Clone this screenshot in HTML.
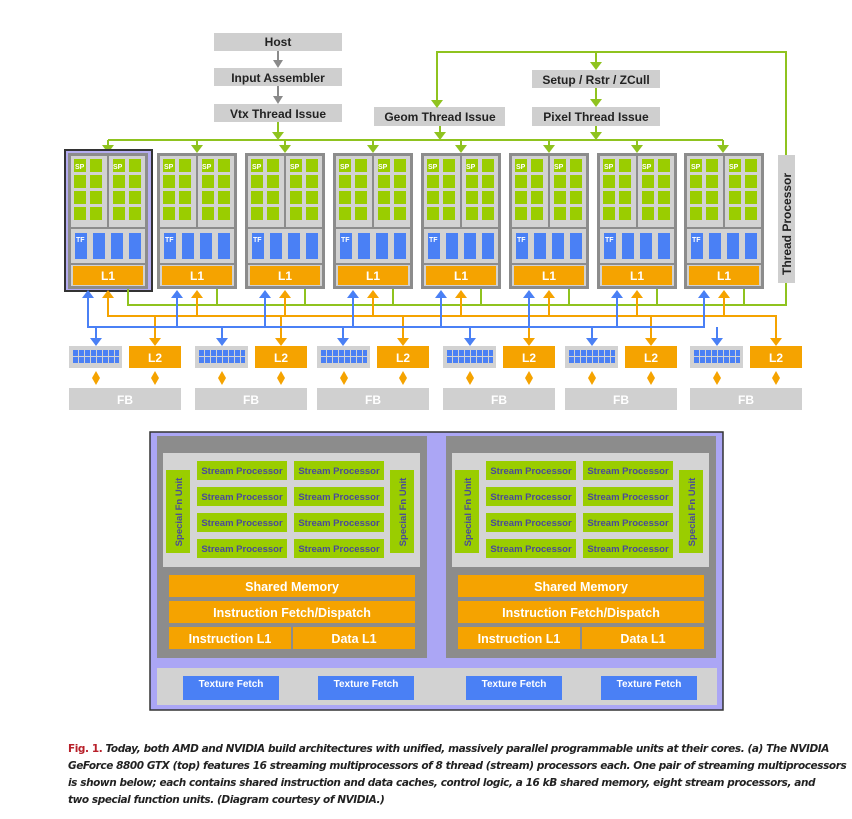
<!DOCTYPE html>
<html><head><meta charset="utf-8"><style>
body{margin:0;background:#fff;}
svg{display:block;font-family:"Liberation Sans",sans-serif;font-weight:bold;}
.cap{position:absolute;left:68px;top:741px;width:790px;white-space:nowrap;font:italic bold 10.5px/17px "DejaVu Sans","Liberation Sans",sans-serif;color:#222;letter-spacing:-0.42px}
.cap b{color:#b8202a;font-style:normal}
</style></head><body>
<svg width="852" height="819" viewBox="0 0 852 819" xmlns="http://www.w3.org/2000/svg">
<defs>
<g id="cl">
<rect x="0" y="153" width="80" height="136" fill="#8c8c8c"/>
<rect x="3" y="156" width="36" height="71" fill="#d2d2d2"/>
<rect x="41" y="156" width="36" height="71" fill="#d2d2d2"/>
<g fill="#9acd00">
<rect x="6" y="159" width="12" height="13"/><rect x="22" y="159" width="12" height="13"/>
<rect x="6" y="175" width="12" height="13"/><rect x="22" y="175" width="12" height="13"/>
<rect x="6" y="191" width="12" height="13"/><rect x="22" y="191" width="12" height="13"/>
<rect x="6" y="207" width="12" height="13"/><rect x="22" y="207" width="12" height="13"/>
<rect x="45" y="159" width="12" height="13"/><rect x="61" y="159" width="12" height="13"/>
<rect x="45" y="175" width="12" height="13"/><rect x="61" y="175" width="12" height="13"/>
<rect x="45" y="191" width="12" height="13"/><rect x="61" y="191" width="12" height="13"/>
<rect x="45" y="207" width="12" height="13"/><rect x="61" y="207" width="12" height="13"/>
</g>
<rect x="3" y="229" width="74" height="34" fill="#d2d2d2"/>
<g fill="#4a80f5">
<rect x="7" y="233" width="12" height="26"/><rect x="25" y="233" width="12" height="26"/>
<rect x="43" y="233" width="12" height="26"/><rect x="61" y="233" width="12" height="26"/>
</g>
<rect x="3" y="265" width="74" height="21" fill="#d2d2d2"/>
<rect x="5" y="266" width="70" height="19" fill="#f5a300"/>
</g>
<g id="mp">
<rect x="0" y="346" width="53" height="22" fill="#d2d2d2"/>
<g fill="#4a80f5">
<rect x="4" y="350" width="5" height="6"/><rect x="10" y="350" width="5" height="6"/><rect x="16" y="350" width="5" height="6"/><rect x="22" y="350" width="5" height="6"/><rect x="28" y="350" width="5" height="6"/><rect x="34" y="350" width="5" height="6"/><rect x="40" y="350" width="5" height="6"/><rect x="46" y="350" width="4" height="6"/>
<rect x="4" y="357" width="5" height="6"/><rect x="10" y="357" width="5" height="6"/><rect x="16" y="357" width="5" height="6"/><rect x="22" y="357" width="5" height="6"/><rect x="28" y="357" width="5" height="6"/><rect x="34" y="357" width="5" height="6"/><rect x="40" y="357" width="5" height="6"/><rect x="46" y="357" width="4" height="6"/>
</g>
<rect x="60" y="346" width="52" height="22" fill="#f5a300"/>
<rect x="0" y="388" width="112" height="22" fill="#d0d0d0"/>
<g fill="#f5a300">
<path d="M27,371 L31,378 L27,385 L23,378Z"/><path d="M86,371 L90,378 L86,385 L82,378Z"/>
</g>
</g>
<g id="sm">
<rect x="0" y="436" width="270" height="222" fill="#8c8c8c"/>
<rect x="6" y="453" width="257" height="114" fill="#d4d4d4"/>
<rect x="9" y="470" width="24" height="83" fill="#9acd00"/>
<rect x="233" y="470" width="24" height="83" fill="#9acd00"/>
<g fill="#9acd00">
<rect x="40" y="461" width="90" height="19"/><rect x="137" y="461" width="90" height="19"/>
<rect x="40" y="487" width="90" height="19"/><rect x="137" y="487" width="90" height="19"/>
<rect x="40" y="513" width="90" height="19"/><rect x="137" y="513" width="90" height="19"/>
<rect x="40" y="539" width="90" height="19"/><rect x="137" y="539" width="90" height="19"/>
</g>
<g fill="#f5a300">
<rect x="12" y="575" width="246" height="22"/><rect x="12" y="601" width="246" height="22"/>
<rect x="12" y="627" width="122" height="22"/><rect x="136" y="627" width="122" height="22"/>
</g>
</g>
</defs>

<g fill="#cfcfcf">
<rect x="214" y="33" width="128" height="18"/>
<rect x="214" y="68" width="128" height="18"/>
<rect x="214" y="104" width="128" height="18"/>
<rect x="374" y="107" width="131" height="19"/>
<rect x="532" y="70" width="128" height="18"/>
<rect x="532" y="107" width="128" height="19"/>
</g>
<g font-size="12" text-anchor="middle" fill="#222">
<text x="278" y="46">Host</text>
<text x="278" y="82">Input Assembler</text>
<text x="278" y="118">Vtx Thread Issue</text>
<text x="440" y="121">Geom Thread Issue</text>
<text x="596" y="84">Setup / Rstr / ZCull</text>
<text x="596" y="121">Pixel Thread Issue</text>
</g>
<g stroke="#8a8a8a" stroke-width="2"><line x1="278" y1="51" x2="278" y2="62"/><line x1="278" y1="86" x2="278" y2="98"/></g>
<g fill="#8a8a8a"><path d="M273,60 L283,60 L278,68Z"/><path d="M273,96 L283,96 L278,104Z"/></g>

<g stroke="#8fc31f" stroke-width="2" fill="none">
<polyline points="437,101 437,52 786,52 786,155"/>
<line x1="596" y1="52" x2="596" y2="64"/>
<line x1="596" y1="88" x2="596" y2="101"/>
<line x1="278" y1="122" x2="278" y2="134"/>
<line x1="440" y1="126" x2="440" y2="134"/>
<line x1="596" y1="126" x2="596" y2="134"/>
<line x1="108" y1="140" x2="723" y2="140"/>
<line x1="108" y1="140" x2="108" y2="146"/><line x1="197" y1="140" x2="197" y2="146"/><line x1="285" y1="140" x2="285" y2="146"/><line x1="373" y1="140" x2="373" y2="146"/><line x1="461" y1="140" x2="461" y2="146"/><line x1="549" y1="140" x2="549" y2="146"/><line x1="637" y1="140" x2="637" y2="146"/><line x1="723" y1="140" x2="723" y2="146"/>
</g>
<g fill="#8fc31f">
<path d="M431,100 L443,100 L437,108Z"/><path d="M590,62 L602,62 L596,70Z"/><path d="M590,99 L602,99 L596,107Z"/>
<path d="M272,132 L284,132 L278,140Z"/><path d="M434,132 L446,132 L440,140Z"/><path d="M590,132 L602,132 L596,140Z"/>
<path d="M102,145 L114,145 L108,153Z"/><path d="M191,145 L203,145 L197,153Z"/><path d="M279,145 L291,145 L285,153Z"/><path d="M367,145 L379,145 L373,153Z"/><path d="M455,145 L467,145 L461,153Z"/><path d="M543,145 L555,145 L549,153Z"/><path d="M631,145 L643,145 L637,153Z"/><path d="M717,145 L729,145 L723,153Z"/>
</g>

<rect x="65" y="150" width="87" height="141" fill="#b4acf0" stroke="#333" stroke-width="2"/>
<use href="#cl" x="68"/><use href="#cl" x="157"/><use href="#cl" x="245"/><use href="#cl" x="333"/>
<use href="#cl" x="421"/><use href="#cl" x="509"/><use href="#cl" x="597"/><use href="#cl" x="684"/>
<g font-size="7" fill="#fff">
<text x="75" y="169">SP</text><text x="113" y="169">SP</text><text x="164" y="169">SP</text><text x="202" y="169">SP</text>
<text x="252" y="169">SP</text><text x="290" y="169">SP</text><text x="340" y="169">SP</text><text x="378" y="169">SP</text>
<text x="428" y="169">SP</text><text x="466" y="169">SP</text><text x="516" y="169">SP</text><text x="554" y="169">SP</text>
<text x="604" y="169">SP</text><text x="642" y="169">SP</text><text x="691" y="169">SP</text><text x="729" y="169">SP</text>
<text x="76" y="242">TF</text><text x="165" y="242">TF</text><text x="253" y="242">TF</text><text x="341" y="242">TF</text>
<text x="429" y="242">TF</text><text x="517" y="242">TF</text><text x="605" y="242">TF</text><text x="692" y="242">TF</text>
</g>
<g font-size="12" fill="#fff" text-anchor="middle">
<text x="108" y="280">L1</text><text x="197" y="280">L1</text><text x="285" y="280">L1</text><text x="373" y="280">L1</text>
<text x="461" y="280">L1</text><text x="549" y="280">L1</text><text x="637" y="280">L1</text><text x="724" y="280">L1</text>
</g>
<rect x="778" y="155" width="17" height="128" fill="#cfcfcf"/>
<text transform="translate(791,275) rotate(-90)" font-size="12" fill="#222">Thread Processor</text>

<g stroke="#8fc31f" stroke-width="2" fill="none">
<polyline points="786,283 786,305 128,305 128,289"/>
<line x1="217" y1="289" x2="217" y2="305"/><line x1="305" y1="289" x2="305" y2="305"/><line x1="393" y1="289" x2="393" y2="305"/><line x1="481" y1="289" x2="481" y2="305"/><line x1="569" y1="289" x2="569" y2="305"/><line x1="657" y1="289" x2="657" y2="305"/><line x1="744" y1="289" x2="744" y2="305"/>
</g>
<g stroke="#f5a300" stroke-width="2" fill="none">
<polyline points="108,297 108,316 776,316 776,340"/>
<line x1="197" y1="297" x2="197" y2="316"/><line x1="285" y1="297" x2="285" y2="316"/><line x1="373" y1="297" x2="373" y2="316"/><line x1="461" y1="297" x2="461" y2="316"/><line x1="549" y1="297" x2="549" y2="316"/><line x1="637" y1="297" x2="637" y2="316"/><line x1="724" y1="297" x2="724" y2="316"/>
<line x1="155" y1="316" x2="155" y2="340"/><line x1="281" y1="316" x2="281" y2="340"/><line x1="403" y1="316" x2="403" y2="340"/><line x1="529" y1="316" x2="529" y2="340"/><line x1="651" y1="316" x2="651" y2="340"/>
</g>
<g fill="#f5a300">
<path d="M102,298 L114,298 L108,290Z"/><path d="M191,298 L203,298 L197,290Z"/><path d="M279,298 L291,298 L285,290Z"/><path d="M367,298 L379,298 L373,290Z"/><path d="M455,298 L467,298 L461,290Z"/><path d="M543,298 L555,298 L549,290Z"/><path d="M631,298 L643,298 L637,290Z"/><path d="M718,298 L730,298 L724,290Z"/>
<path d="M149,338 L161,338 L155,346Z"/><path d="M275,338 L287,338 L281,346Z"/><path d="M397,338 L409,338 L403,346Z"/><path d="M523,338 L535,338 L529,346Z"/><path d="M645,338 L657,338 L651,346Z"/><path d="M770,338 L782,338 L776,346Z"/>
</g>
<g stroke="#4a80f5" stroke-width="2" fill="none">
<polyline points="88,297 88,327 704,327 704,297"/>
<line x1="177" y1="297" x2="177" y2="327"/><line x1="265" y1="297" x2="265" y2="327"/><line x1="353" y1="297" x2="353" y2="327"/><line x1="441" y1="297" x2="441" y2="327"/><line x1="529" y1="297" x2="529" y2="327"/><line x1="617" y1="297" x2="617" y2="327"/>
<line x1="96" y1="327" x2="96" y2="340"/><line x1="222" y1="327" x2="222" y2="340"/><line x1="343" y1="327" x2="343" y2="340"/><line x1="470" y1="327" x2="470" y2="340"/><line x1="592" y1="327" x2="592" y2="340"/><line x1="717" y1="327" x2="717" y2="340"/>
</g>
<g fill="#4a80f5">
<path d="M82,298 L94,298 L88,290Z"/><path d="M171,298 L183,298 L177,290Z"/><path d="M259,298 L271,298 L265,290Z"/><path d="M347,298 L359,298 L353,290Z"/><path d="M435,298 L447,298 L441,290Z"/><path d="M523,298 L535,298 L529,290Z"/><path d="M611,298 L623,298 L617,290Z"/><path d="M698,298 L710,298 L704,290Z"/>
<path d="M90,338 L102,338 L96,346Z"/><path d="M216,338 L228,338 L222,346Z"/><path d="M337,338 L349,338 L343,346Z"/><path d="M464,338 L476,338 L470,346Z"/><path d="M586,338 L598,338 L592,346Z"/><path d="M711,338 L723,338 L717,346Z"/>
</g>

<use href="#mp" x="69"/><use href="#mp" x="195"/><use href="#mp" x="317"/><use href="#mp" x="443"/><use href="#mp" x="565"/><use href="#mp" x="690"/>
<g font-size="12" fill="#fff" text-anchor="middle">
<text x="155" y="362">L2</text><text x="281" y="362">L2</text><text x="403" y="362">L2</text><text x="529" y="362">L2</text><text x="651" y="362">L2</text><text x="776" y="362">L2</text>
<text x="125" y="404">FB</text><text x="251" y="404">FB</text><text x="373" y="404">FB</text><text x="499" y="404">FB</text><text x="621" y="404">FB</text><text x="746" y="404">FB</text>
</g>

<rect x="150" y="432" width="573" height="278" fill="#aba6f5" stroke="#333" stroke-width="1.5"/>
<use href="#sm" x="157"/><use href="#sm" x="446"/>
<g font-size="9.5" fill="#4a4a9a" text-anchor="middle">
<text x="242" y="474">Stream Processor</text><text x="339" y="474">Stream Processor</text>
<text x="242" y="500">Stream Processor</text><text x="339" y="500">Stream Processor</text>
<text x="242" y="526">Stream Processor</text><text x="339" y="526">Stream Processor</text>
<text x="242" y="552">Stream Processor</text><text x="339" y="552">Stream Processor</text>
<text x="531" y="474">Stream Processor</text><text x="628" y="474">Stream Processor</text>
<text x="531" y="500">Stream Processor</text><text x="628" y="500">Stream Processor</text>
<text x="531" y="526">Stream Processor</text><text x="628" y="526">Stream Processor</text>
<text x="531" y="552">Stream Processor</text><text x="628" y="552">Stream Processor</text>
<text transform="translate(182,512) rotate(-90)">Special Fn Unit</text>
<text transform="translate(406,512) rotate(-90)">Special Fn Unit</text>
<text transform="translate(471,512) rotate(-90)">Special Fn Unit</text>
<text transform="translate(695,512) rotate(-90)">Special Fn Unit</text>
</g>
<g font-size="12.5" fill="#fff" text-anchor="middle">
<text x="292" y="591">Shared Memory</text><text x="292" y="617">Instruction Fetch/Dispatch</text>
<text x="230" y="643">Instruction L1</text><text x="354" y="643">Data L1</text>
<text x="581" y="591">Shared Memory</text><text x="581" y="617">Instruction Fetch/Dispatch</text>
<text x="519" y="643">Instruction L1</text><text x="643" y="643">Data L1</text>
</g>
<rect x="157" y="668" width="560" height="37" fill="#d2d2d2"/>
<g fill="#4a80f5">
<rect x="183" y="676" width="96" height="24"/><rect x="318" y="676" width="96" height="24"/>
<rect x="466" y="676" width="96" height="24"/><rect x="601" y="676" width="96" height="24"/>
</g>
<g font-size="10" fill="#fff" text-anchor="middle">
<text x="231" y="687">Texture Fetch</text><text x="366" y="687">Texture Fetch</text>
<text x="514" y="687">Texture Fetch</text><text x="649" y="687">Texture Fetch</text>
</g>
</svg>
<div class="cap"><b>Fig. 1.</b> Today, both AMD and NVIDIA build architectures with unified, massively parallel programmable units at their cores. (a) The NVIDIA<br>GeForce 8800 GTX (top) features 16 streaming multiprocessors of 8 thread (stream) processors each. One pair of streaming multiprocessors<br>is shown below; each contains shared instruction and data caches, control logic, a 16 kB shared memory, eight stream processors, and<br>two special function units. (Diagram courtesy of NVIDIA.)</div>
</body></html>
